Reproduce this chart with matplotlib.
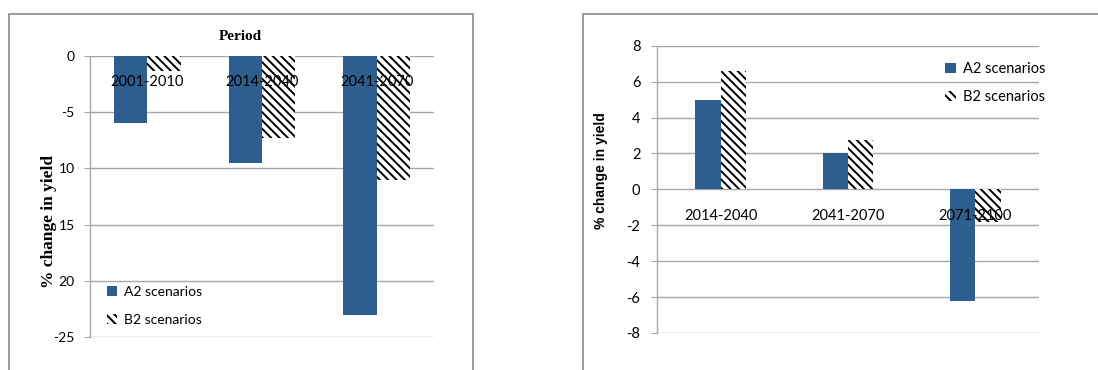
import matplotlib
matplotlib.use("Agg")
import matplotlib.pyplot as plt
from matplotlib.patches import Rectangle

# Yield change per period, left panel
left_periods = ["2001-2010", "2014-2040", "2041-2070"]
left_a2 = [-6.0, -9.5, -23.0]
left_b2 = [-1.3, -7.3, -11.0]
left_ticks = [0, -5, -10, -15, -20, -25]
left_tick_labels = ["0", "-5", "10", "15", "20", "-25"]

# Yield change per period, right panel
right_periods = ["2014-2040", "2041-2070", "2071-2100"]
right_a2 = [4.95, 2.05, -6.2]
right_b2 = [6.6, 2.75, -1.8]
right_ticks = [8, 6, 4, 2, 0, -2, -4, -6, -8]

BLUE = "#2E5E8E"
GRID = "#A6A6A6"
SANS = ["Lato", "DejaVu Sans"]
BOLD_SANS = ["Liberation Sans", "DejaVu Sans"]
SERIF = ["Liberation Serif", "DejaVu Serif"]
HATCH = "\\\\\\\\"

plt.rcParams["hatch.linewidth"] = 1.4
plt.rcParams["hatch.color"] = "black"

W, H = 1098, 370
fig = plt.figure(figsize=(W / 100, H / 100), dpi=100)


def px_axes(x0, y0, x1, y1):
    return fig.add_axes([x0 / W, (H - y1) / H, (x1 - x0) / W, (y1 - y0) / H])


def style_axes(ax, ticks, tick_labels, fsize, pad):
    ax.set_yticks(ticks)
    ax.set_yticklabels(tick_labels, family=SANS, fontsize=fsize)
    ax.set_xticks([])
    for side in ["top", "right", "bottom"]:
        ax.spines[side].set_visible(False)
    ax.spines["left"].set_color(GRID)
    ax.spines["left"].set_linewidth(1.0)
    ax.tick_params(axis="y", length=4, color=GRID, pad=pad)
    ax.yaxis.grid(True, color=GRID, linewidth=1.0)
    ax.set_axisbelow(True)


def draw_bars(ax, a2, b2, width):
    x = list(range(len(a2)))
    ax.bar([i - width / 2 for i in x], a2, width, color=BLUE, label="A2 scenarios", zorder=2)
    ax.bar([i + width / 2 for i in x], b2, width, color="white", hatch=HATCH,
           edgecolor="black", linewidth=0, label="B2 scenarios", zorder=2)
    ax.set_xlim(-0.5, len(a2) - 0.5)


def add_legend(ax, anchor, size, spacing):
    h1 = Rectangle((0, 0), 1, 1, facecolor=BLUE, edgecolor="none")
    h2 = Rectangle((0, 0), 1, 1, facecolor="white", edgecolor="black",
                   hatch=HATCH, linewidth=0)
    ax.legend([h1, h2], ["A2 scenarios", "B2 scenarios"], loc="center left",
              bbox_to_anchor=anchor, frameon=False, borderaxespad=0, borderpad=0,
              prop={"family": SANS, "size": size}, handlelength=0.7,
              handleheight=0.7, handletextpad=0.5, labelspacing=spacing)


# outer frames around each chart
fig.patches.append(Rectangle((9 / W, -0.05), 464 / W, (H - 14) / H + 0.05,
                             transform=fig.transFigure, fill=False,
                             edgecolor="#8C8C8C", linewidth=1.2))
fig.patches.append(Rectangle((583 / W, -0.05), 600 / W, (H - 14) / H + 0.05,
                             transform=fig.transFigure, fill=False,
                             edgecolor="#8C8C8C", linewidth=1.2))

# left chart
ax1 = px_axes(90, 56, 434, 337)
draw_bars(ax1, left_a2, left_b2, 0.29)
ax1.set_ylim(-25, 0)
style_axes(ax1, left_ticks, left_tick_labels, 10, 7)
for i, lab in enumerate(left_periods):
    ax1.text(i, -2.3, lab, ha="center", va="center", family=SANS, fontsize=10.5, zorder=3)
ax1.set_ylabel("% change in yield", family=SERIF, fontweight="bold", fontsize=12.5)
ax1.yaxis.set_label_coords(-0.097, 0.41)
fig.text(240 / W, (H - 36) / H, "Period", ha="center", va="center",
         family=SERIF, fontweight="bold", fontsize=11)
add_legend(ax1, (0.05, 0.11), 10, 1.15)

# right chart
ax2 = px_axes(657, 45.7, 1039, 333)
draw_bars(ax2, right_a2, right_b2, 0.2)
ax2.set_ylim(-8, 8)
style_axes(ax2, right_ticks, [str(t) for t in right_ticks], 10.5, 8)
for i, lab in enumerate(right_periods):
    ax2.text(i, -1.5, lab, ha="center", va="center", family=SANS, fontsize=10.5, zorder=3)
ax2.set_ylabel("% change in yield", family=BOLD_SANS, fontweight="bold", fontsize=10)
ax2.yaxis.set_label_coords(-0.128, 0.567)
add_legend(ax2, (0.755, 0.87), 10.5, 1.0)

fig.savefig("out.png", dpi=100)
